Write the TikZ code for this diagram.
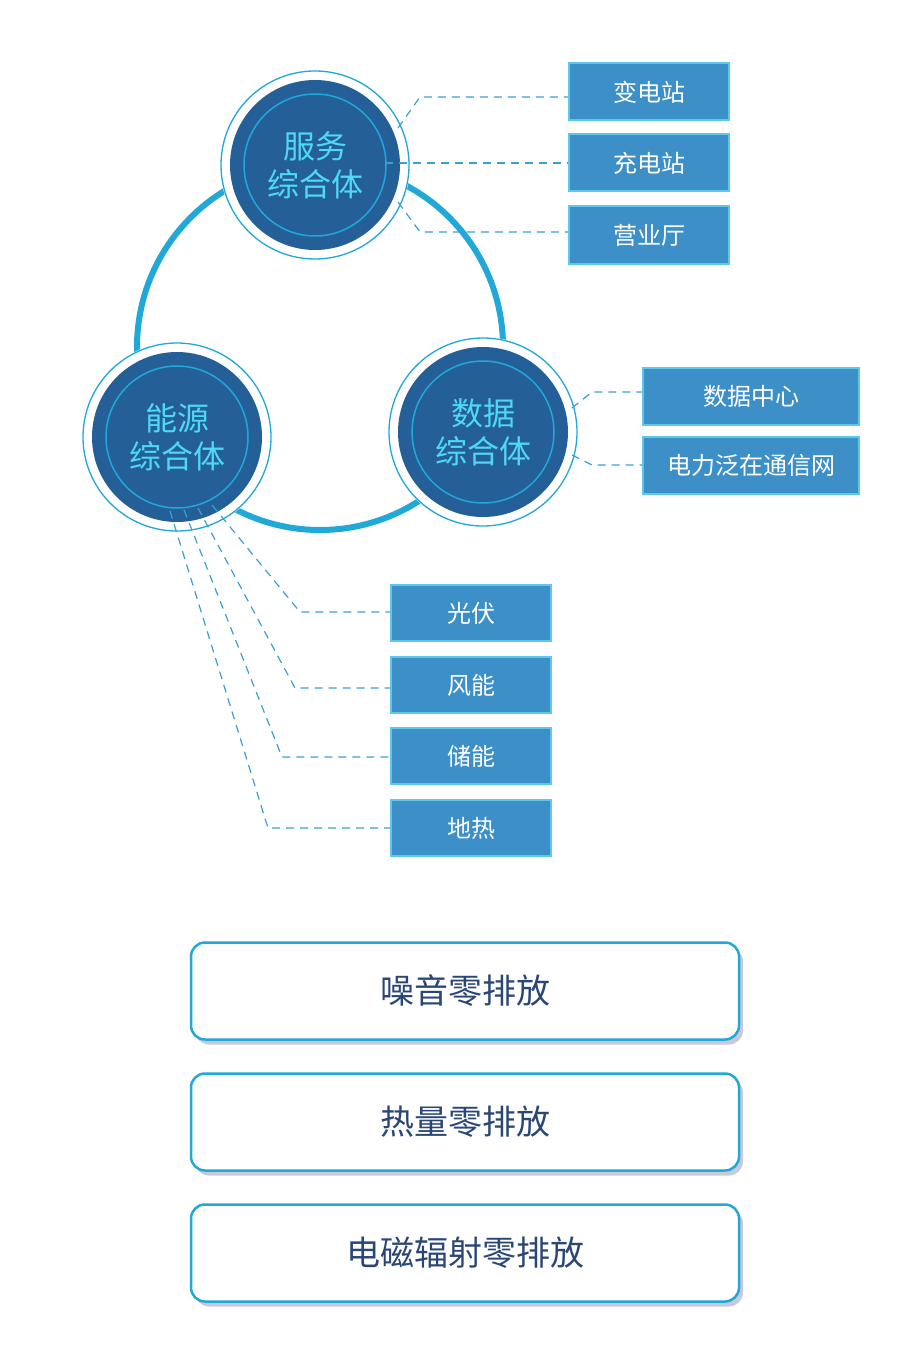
\documentclass[tikz,border=0pt]{standalone}
\usepackage{fontspec}
\newfontfamily\cjk{Noto Sans CJK SC}
\usetikzlibrary{shadows}
\definecolor{ringc}{HTML}{1FA8D8}
\definecolor{darkc}{HTML}{245F98}
\definecolor{boxc}{HTML}{3D8FC8}
\definecolor{boxb}{HTML}{5CC8EC}
\definecolor{txtc}{HTML}{4FD8F2}
\definecolor{navy}{HTML}{2A4676}
\definecolor{dashc}{HTML}{3AA0D0}
\begin{document}
\begin{tikzpicture}[x=1pt,y=-1pt,
  hub/.style={circle,fill=darkc,minimum size=170pt,inner sep=0pt,text=txtc,font=\cjk\fontsize{32}{38}\selectfont,align=center},
  tag/.style={draw=boxb,line width=2pt,fill=boxc,text=white,font=\cjk\fontsize{24}{28}\selectfont,inner sep=0pt},
  lead/.style={dashc,dashed,dash pattern=on 8pt off 6pt,line width=1.2pt},
  pill/.style={draw=ringc,line width=2.5pt,fill=white,rounded corners=14pt,minimum width=548pt,minimum height=97pt,text=navy,font=\cjk\fontsize{34}{40}\selectfont,drop shadow={shadow xshift=4pt,shadow yshift=-5pt,fill=blue!20!gray,opacity=0.35}}]
\useasboundingbox[fill=white] (0,0) rectangle (900,1348);
\draw[ringc,line width=6pt] (320,347) circle (183);
\foreach \n/\x/\y/\t in {s/315/165/服务\\综合体, e/177/437/能源\\综合体, d/483/432/数据\\综合体}{
  \fill[white] (\x,\y) circle (95);
  \draw[ringc,line width=1.3pt] (\x,\y) circle (94);
  \node[hub] (\n) at (\x,\y) {\t};
  \draw[ringc,line width=1.5pt] (\x,\y) circle (71);
}
% top tags
\node[tag,minimum width=160pt,minimum height=57pt] (t1) at (649,92) {变电站};
\node[tag,minimum width=160pt,minimum height=57pt] (t2) at (649,163) {充电站};
\node[tag,minimum width=160pt,minimum height=57pt] (t3) at (649,235) {营业厅};
\draw[lead] (398,128) -- (420,97) -- (t1.west|-0,97);
\draw[lead] (385,163) -- (t2.west);
\draw[lead] (398,202) -- (420,232) -- (t3.west|-0,232);
% right tags
\node[tag,minimum width=216pt,minimum height=57pt] (r1) at (751,396) {数据中心};
\node[tag,minimum width=216pt,minimum height=57pt] (r2) at (751,465) {电力泛在通信网};
\draw[lead] (572,408) -- (592,392) -- (r1.west|-0,392);
\draw[lead] (572,455) -- (592,465) -- (r2.west|-0,465);
% bottom tags
\node[tag,minimum width=160pt,minimum height=56pt] (b1) at (471,613) {光伏};
\node[tag,minimum width=160pt,minimum height=56pt] (b2) at (471,685) {风能};
\node[tag,minimum width=160pt,minimum height=56pt] (b3) at (471,756) {储能};
\node[tag,minimum width=160pt,minimum height=56pt] (b4) at (471,828) {地热};
\draw[lead] (212,505) -- (300,612) -- (b1.west|-0,612);
\draw[lead] (198,508) -- (295,688) -- (b2.west|-0,688);
\draw[lead] (184,510) -- (282,757) -- (b3.west|-0,757);
\draw[lead] (170,511) -- (268,828) -- (b4.west|-0,828);
% bottom pills
\node[pill] (p1) at (465,991) {噪音零排放};
\node[pill] (p2) at (465,1122) {热量零排放};
\node[pill] (p3) at (465,1253) {电磁辐射零排放};
\end{tikzpicture}
\end{document}
